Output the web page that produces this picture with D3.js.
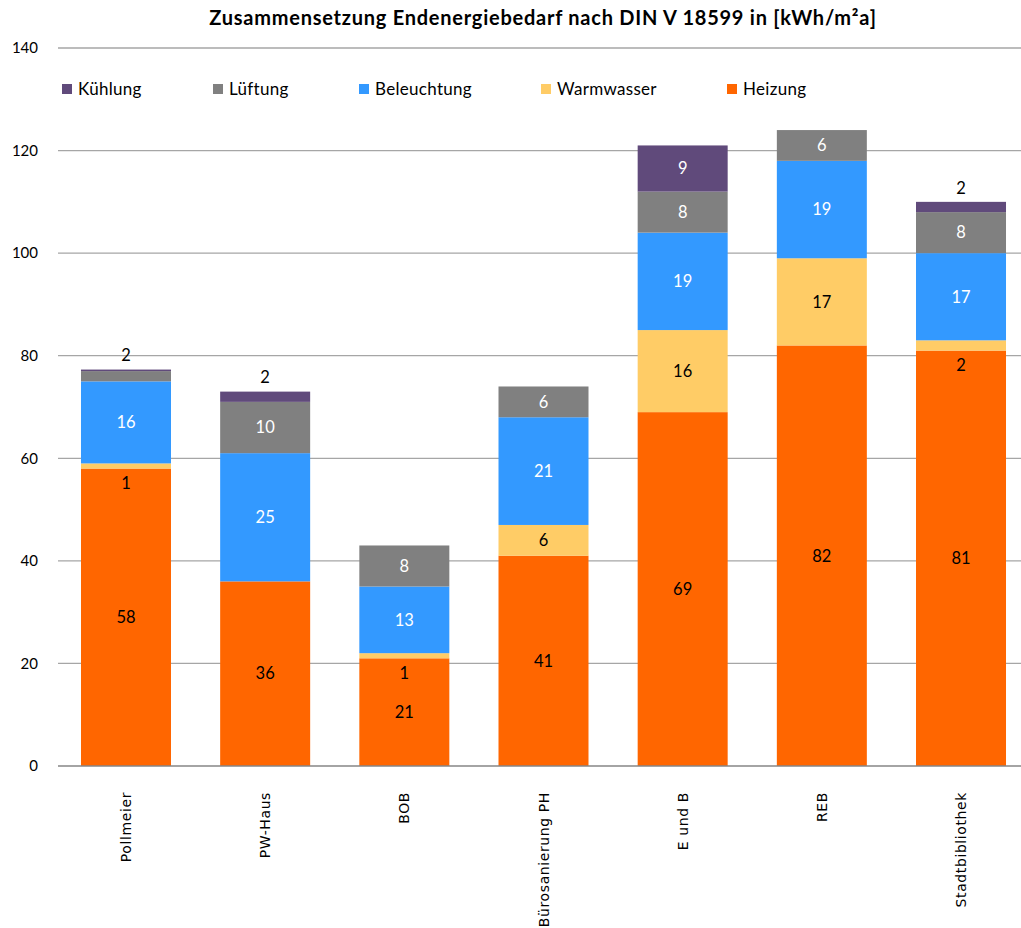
<!DOCTYPE html>
<html>
<head>
<meta charset="utf-8">
<script src="https://cdn.jsdelivr.net/npm/d3@7"></script>
<style>
  html, body { margin: 0; padding: 0; background: #fff; }
  svg { display: block; }
</style>
</head>
<body>
<svg id="chart" width="1021" height="928"></svg>
<script>
// Gebäude (Kategorien)
const categories = ["Pollmeier", "PW-Haus", "BOB", "Bürosanierung PH", "E und B", "REB", "Stadtbibliothek"];

// Endenergiebedarf je Anteil in kWh/m²a
const heizung     = [58, 36, 21, 41, 69, 82, 81];
const warmwasser  = [1, 0, 1, 6, 16, 17, 2];
const beleuchtung = [16, 25, 13, 21, 19, 19, 17];
const lueftung    = [2, 10, 8, 6, 8, 6, 8];
const kuehlung    = [0.3, 2, 0, 0, 9, 0, 2];

// Stapelreihenfolge von unten nach oben
const seriesNames = ["Heizung", "Warmwasser", "Beleuchtung", "Lüftung", "Kühlung"];
const seriesValues = [heizung, warmwasser, beleuchtung, lueftung, kuehlung];
const seriesColors = ["#FF6600", "#FFCC66", "#3399FF", "#808080", "#604A7B"];
const labelColors  = ["#000", "#000", "#fff", "#fff", "#fff"];

// Legende (Reihenfolge links nach rechts)
const legendOrder = ["Kühlung", "Lüftung", "Beleuchtung", "Warmwasser", "Heizung"];
const legendX = [62, 213, 359, 541, 727];

const yTicks = [0, 20, 40, 60, 80, 100, 120, 140];
const title = "Zusammensetzung Endenergiebedarf nach DIN V 18599 in [kWh/m²a]";

const svg = d3.select("#chart");
const margin = { left: 58, top: 48, bottom: 162 };
const W = 1021, H = 928;

const rows = categories.map((c, i) => {
  const r = { cat: c };
  seriesNames.forEach((s, k) => r[s] = seriesValues[k][i]);
  return r;
});
const stacked = d3.stack().keys(seriesNames)(rows);
const totals = rows.map(r => d3.sum(seriesNames, s => r[s]));

const x = d3.scaleBand().domain(categories)
  .range([56.4, 1030.6]).paddingInner(0.3533).paddingOuter(0.1767);
const y = d3.scaleLinear().domain([0, 140]).range([H - margin.bottom, margin.top]);

const font = "Lato, 'Open Sans', sans-serif";

// Gitterlinien
svg.append("g").selectAll("line").data(yTicks.filter(t => t > 0)).join("line")
  .attr("x1", margin.left).attr("x2", W)
  .attr("y1", d => y(d)).attr("y2", d => y(d))
  .attr("stroke", "#A6A6A6").attr("stroke-width", 1.3);

// Y-Achsenbeschriftung
svg.append("g").selectAll("text").data(yTicks).join("text")
  .attr("x", 38).attr("y", d => y(d)).attr("dy", "0.35em")
  .attr("text-anchor", "end")
  .style("font-family", font).style("font-size", "15px").attr("fill", "#000")
  .text(d => d);

// Balken
const layers = svg.append("g").selectAll("g").data(stacked).join("g")
  .attr("fill", (d, k) => seriesColors[k]);
layers.selectAll("rect").data(d => d).join("rect")
  .attr("x", d => x(d.data.cat)).attr("width", x.bandwidth())
  .attr("y", d => y(d[1])).attr("height", d => Math.max(0, y(d[0]) - y(d[1])));

// X-Achse
svg.append("line")
  .attr("x1", margin.left).attr("x2", W)
  .attr("y1", y(0)).attr("y2", y(0))
  .attr("stroke", "#868686").attr("stroke-width", 1.5);

// Datenbeschriftungen
const labels = svg.append("g");
stacked.forEach((layer, k) => {
  layer.forEach((d, i) => {
    const v = d[1] - d[0];
    if (Math.round(v) < 1) return;
    const h = y(d[0]) - y(d[1]);
    let ly, col = labelColors[k];
    if (h >= 20) {
      ly = (y(d[0]) + y(d[1])) / 2;
    } else if (k >= 3) {
      ly = y(totals[i]) - 14;
      col = "#000";
    } else {
      ly = y(d[0]) + 15;
      col = "#000";
    }
    labels.append("text")
      .attr("x", x(d.data.cat) + x.bandwidth() / 2).attr("y", ly).attr("dy", "0.35em")
      .attr("text-anchor", "middle")
      .style("font-family", font).style("font-size", "16.5px").attr("fill", col)
      .text(Math.round(v));
  });
});

// Kategorienamen (gedreht)
svg.append("g").selectAll("text").data(categories).join("text")
  .attr("transform", d => `translate(${x(d) + x.bandwidth() / 2 + 5},792) rotate(-90)`)
  .attr("text-anchor", "end")
  .style("font-family", "'DejaVu Sans', sans-serif").style("font-size", "14px")
  .style("letter-spacing", "0.6px").attr("fill", "#000")
  .text(d => d);

// Legende
const leg = svg.append("g");
legendOrder.forEach((name, j) => {
  const k = seriesNames.indexOf(name);
  leg.append("rect").attr("x", legendX[j]).attr("y", 84).attr("width", 10).attr("height", 10)
    .attr("fill", seriesColors[k]);
  leg.append("text").attr("x", legendX[j] + 16).attr("y", 89).attr("dy", "0.35em")
    .style("font-family", font).style("font-size", "17px").style("letter-spacing", "0.3px")
    .attr("fill", "#000")
    .text(name);
});

// Titel
svg.append("text")
  .attr("x", 543).attr("y", 18).attr("dy", "0.35em").attr("text-anchor", "middle")
  .style("font-family", font).style("font-size", "20px").style("font-weight", "bold")
  .style("letter-spacing", "0.75px")
  .attr("fill", "#000")
  .text(title);
</script>
</body>
</html>
